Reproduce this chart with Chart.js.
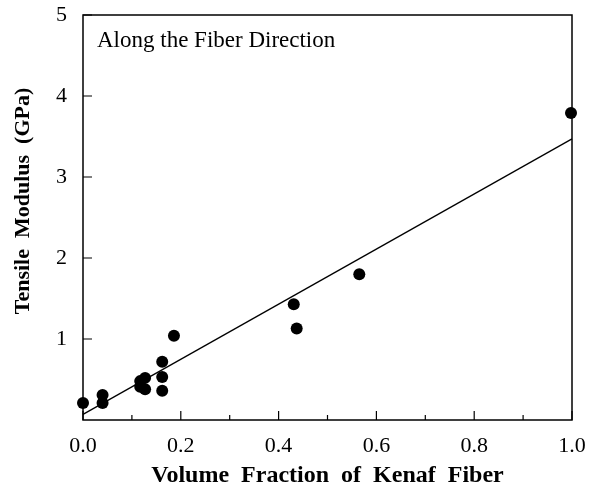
<!DOCTYPE html>
<html>
<head>
<meta charset="utf-8">
<script src="https://cdn.jsdelivr.net/npm/chart.js@4"></script>
<style>
    html, body { margin: 0; padding: 0; background: #fff; }
    #wrap { width: 590px; height: 488px; }
</style>
</head>
<body>
<div id="wrap"><canvas id="modulusChart" width="590" height="488"></canvas></div>
<script>
// データ
const fiberFraction = [0.0, 0.04, 0.04, 0.117, 0.127, 0.117, 0.127, 0.162, 0.162, 0.162, 0.186, 0.431, 0.437, 0.565, 0.998];
const tensileModulus = [0.21, 0.31, 0.21, 0.48, 0.52, 0.41, 0.38, 0.72, 0.53, 0.36, 1.04, 1.43, 1.13, 1.80, 3.79];

// 回帰直線
const fitX = [0.0, 1.0];
const fitY = [0.07, 3.47];

const xTicks = [0.0, 0.2, 0.4, 0.6, 0.8, 1.0];
const xMinorTicks = [0.1, 0.3, 0.5, 0.7, 0.9];
const yTicks = [1, 2, 3, 4, 5];

const noteText = 'Along the Fiber Direction';
const xTitle = 'Volume  Fraction  of  Kenaf  Fiber';
// 先頭の空白で軸タイトルを少し上にずらす
const yTitle = '      Tensile  Modulus  (GPa)';

const serif = '"Liberation Serif", "DejaVu Serif", serif';

// 枠・内向き目盛・注記
const framePlugin = {
    id: 'frame',
    afterDraw(chart) {
        const { ctx, chartArea: a, scales } = chart;
        const xs = scales.x, ys = scales.y;
        ctx.save();
        ctx.strokeStyle = '#000';
        ctx.lineWidth = 1.5;
        ctx.strokeRect(a.left, a.top, a.right - a.left, a.bottom - a.top);

        ctx.lineWidth = 1.2;
        ctx.beginPath();
        xTicks.forEach(v => {
            const px = xs.getPixelForValue(v);
            ctx.moveTo(px, a.bottom);
            ctx.lineTo(px, a.bottom - 9);
        });
        xMinorTicks.forEach(v => {
            const px = xs.getPixelForValue(v);
            ctx.moveTo(px, a.bottom);
            ctx.lineTo(px, a.bottom - 5);
        });
        yTicks.forEach(v => {
            const py = ys.getPixelForValue(v);
            ctx.moveTo(a.left, py);
            ctx.lineTo(a.left + 9, py);
        });
        ctx.stroke();

        ctx.fillStyle = '#000';
        ctx.font = '23px ' + serif;
        ctx.textAlign = 'left';
        ctx.textBaseline = 'alphabetic';
        ctx.fillText(noteText, a.left + 14, a.top + 32);
        ctx.restore();
    },
};

const ctx = document.getElementById('modulusChart').getContext('2d');
new Chart(ctx, {
    type: 'scatter',
    data: {
        datasets: [
            {
                type: 'line',
                data: fitX.map((x, i) => ({ x: x, y: fitY[i] })),
                borderColor: '#000',
                borderWidth: 1.3,
                pointRadius: 0,
                fill: false,
                clip: false,
            },
            {
                data: fiberFraction.map((x, i) => ({ x: x, y: tensileModulus[i] })),
                backgroundColor: '#000',
                borderColor: '#000',
                pointRadius: 6,
                borderWidth: 0,
                clip: false,
            },
        ],
    },
    plugins: [framePlugin],
    options: {
        responsive: false,
        animation: false,
        layout: { padding: { top: 15, right: 18, left: 0, bottom: 0 } },
        plugins: {
            legend: { display: false },
            tooltip: { enabled: false },
        },
        scales: {
            x: {
                type: 'linear',
                min: 0,
                max: 1,
                afterFit(scale) {
                    scale.height = 68;
                    scale.paddingLeft = 0;
                    scale.paddingRight = 0;
                },
                afterBuildTicks(scale) { scale.ticks = xTicks.map(v => ({ value: v })); },
                grid: { display: false, drawTicks: false },
                border: { display: false },
                ticks: {
                    padding: 13,
                    color: '#000',
                    font: { family: serif, size: 22 },
                    callback: v => v.toFixed(1),
                },
                title: {
                    display: true,
                    text: xTitle,
                    color: '#000',
                    font: { family: serif, size: 24, weight: 'bold', lineHeight: 1 },
                    padding: { top: 0, bottom: 0 },
                },
            },
            y: {
                type: 'linear',
                min: 0,
                max: 5,
                afterFit(scale) {
                    scale.width = 83;
                    scale.paddingTop = 0;
                    scale.paddingBottom = 0;
                },
                afterBuildTicks(scale) { scale.ticks = yTicks.map(v => ({ value: v })); },
                grid: { display: false, drawTicks: false },
                border: { display: false },
                ticks: {
                    padding: 16,
                    color: '#000',
                    font: { family: serif, size: 22 },
                },
                title: {
                    display: true,
                    text: yTitle,
                    color: '#000',
                    font: { family: serif, size: 22, weight: 'bold', lineHeight: 1 },
                    padding: { top: 12, bottom: 0 },
                },
            },
        },
    },
});
</script>
</body>
</html>
